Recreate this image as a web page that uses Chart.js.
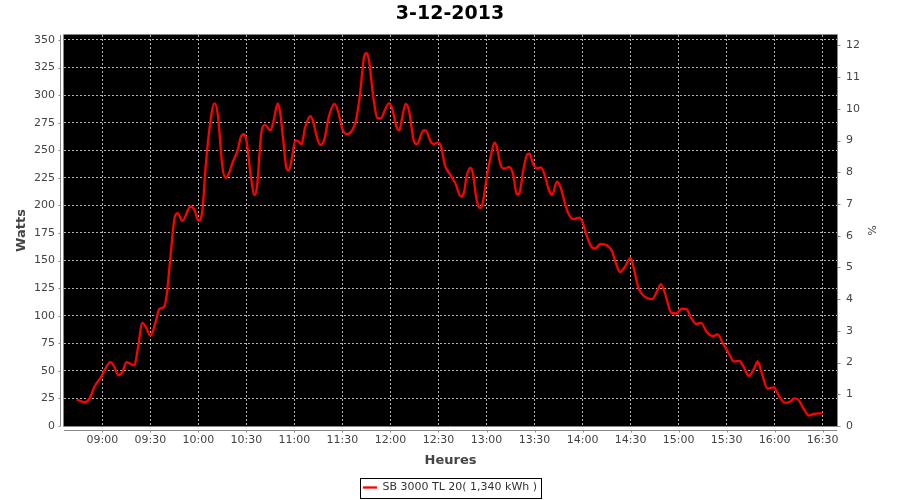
<!DOCTYPE html>
<html>
<head>
<meta charset="utf-8">
<title>3-12-2013</title>
<script src="https://cdn.jsdelivr.net/npm/chart.js@4.4.0/dist/chart.umd.min.js"></script>
<style>
  body { margin: 0; background: #fff; }
</style>
</head>
<body>
<canvas id="myChart" width="900" height="500"></canvas>
<script>
// minutes since midnight
const minutes = [
  524, 529, 532, 535, 539, 545, 547, 550, 552.5, 555,
  558, 560, 562, 565, 567, 570, 573, 575.5, 578.5, 580,
  582.5, 585, 587, 590, 595, 597.5, 600, 602.5, 604.5, 607,
  610, 612, 615, 617, 619, 621.5, 624.5, 626.5, 628.5, 630,
  632.5, 635, 636.5, 639.5, 641.5, 645, 647, 649.5, 651, 653,
  655, 656.5, 658.5, 660.5, 662.5, 664.5, 666.5, 670, 671.5, 674,
  676, 678.5, 681.5, 685, 687, 690, 693, 696, 698.5, 701,
  703.5, 705, 706.5, 709.5, 712, 714, 716.5, 719, 721, 724,
  725.5, 727, 729.5, 731.5, 734.5, 736.5, 740.5, 742, 745, 747,
  749.5, 751.5, 754, 757.5, 760.5, 764, 766, 767.5, 770, 771.5,
  773.5, 775, 776.5, 778, 780, 783, 785, 786.5, 788.5, 790.5,
  792, 794, 796.5, 799, 800.5, 803, 805.5, 807, 809, 811.5,
  814, 816, 819, 821, 824, 826.5, 829, 831, 834.5, 838,
  840, 842.5, 845.5, 848, 851, 854, 858.5, 860.5, 863.5, 866.5,
  870, 872, 875, 879, 883.5, 886.5, 889, 891.5, 895.5, 898.5,
  902, 905, 907.5, 911, 914, 917.5, 921.5, 924.5, 927.5, 931.5,
  934.5, 938, 940.5, 944, 947, 949.5, 952, 955.5, 959.5, 963,
  966.5, 969.5, 972.5, 975, 978, 981.5, 984.5, 987.5, 990
];
const watts = [
  24, 21.5, 25, 35.5, 44, 58, 55, 46, 49, 58,
  56, 55, 69, 93.5, 90, 82, 93, 106, 108, 117,
  153, 188, 193, 186, 199, 196, 186, 196, 235, 271,
  292.5, 283.5, 235, 225, 229, 239.5, 250, 262, 264.5, 259,
  229, 209.5, 216, 268, 273, 268, 277, 292.5, 285, 259,
  233.5, 231.5, 244, 259, 258, 255.5, 270, 281, 277, 262,
  255, 259, 280.5, 292, 286.5, 269, 264.5, 268, 277.5, 301.5,
  335, 338, 332, 295.5, 279, 279, 286.5, 292.5, 288, 270,
  268, 277.5, 292, 286.5, 259, 255.5, 268, 268, 258, 255.5,
  257, 254, 236.5, 227.5, 220, 208, 212.5, 226, 234, 229,
  208, 199, 197.5, 205, 224.5, 247, 257, 253, 238, 233.5,
  233.5, 235, 229, 210, 211, 232, 246.5, 247, 238, 233.5,
  234.5, 229, 214, 209.5, 221.5, 215.5, 202, 193, 187.5, 189,
  185, 173, 162.5, 161, 165, 164.5, 158.5, 149, 139.5, 144.5,
  152.5, 143, 125, 117, 115, 122, 128.5, 120.5, 102.5, 102,
  106.5, 106, 99, 92.5, 93.5, 85.5, 81.5, 83, 75.5, 65.5,
  58.5, 59, 54, 45.5, 51.5, 58.5, 48, 34, 35, 26.5,
  21, 22, 25, 23.5, 16, 9.5, 11, 11.5, 11.5
];
const timeTicks = ['09:00', '09:30', '10:00', '10:30', '11:00', '11:30', '12:00', '12:30',
  '13:00', '13:30', '14:00', '14:30', '15:00', '15:30', '16:00', '16:30'];
const seriesLabel = 'SB 3000 TL 20( 1,340 kWh )';

const toMin = s => { const p = s.split(':'); return +p[0] * 60 + +p[1]; };
const pad2 = n => (n < 10 ? '0' : '') + n;
const fmtMin = m => pad2(Math.floor(m / 60)) + ':' + pad2(Math.round(m % 60));

const FONT = 'DejaVu Sans';
const AXIS_GREY = '#888888';
const GRID_GREY = '#b4b4b4';
const BOTTOM_PAD = -3;

// black plot, grey outline, offset axis lines, legend frame
const decor = {
  id: 'decor',
  beforeDraw(chart) {
    const a = chart.chartArea, c = chart.ctx;
    c.save();
    c.fillStyle = '#000';
    c.fillRect(a.left, a.top, a.right - a.left, a.bottom - a.top);
    c.restore();
  },
  afterDraw(chart) {
    const a = chart.chartArea, c = chart.ctx;
    const sx = chart.scales.x, sy = chart.scales.y, sy2 = chart.scales.y2;
    c.save();
    c.strokeStyle = AXIS_GREY;
    c.lineWidth = 1;
    c.beginPath();
    // outline
    c.rect(Math.round(a.left) - 0.5, Math.round(a.top) - 0.5, Math.round(a.right - a.left) + 1, Math.round(a.bottom - a.top) + 1);
    // left axis line
    const lx = Math.round(a.left) - 3.5;
    c.moveTo(lx, a.top); c.lineTo(lx, a.bottom);
    sy.ticks.forEach(t => {
      const py = Math.round(sy.getPixelForValue(t.value)) + 0.5;
      c.moveTo(lx - 2, py); c.lineTo(lx, py);
    });
    // bottom axis line
    const by = Math.round(a.bottom) + 4.5;
    c.moveTo(a.left, by); c.lineTo(a.right, by);
    sx.ticks.forEach(t => {
      const px = Math.round(sx.getPixelForValue(t.value)) + 0.5;
      c.moveTo(px, by); c.lineTo(px, by + 2);
    });
    // right axis tick marks
    const rx = Math.round(a.right) + 0.5;
    sy2.ticks.forEach(t => {
      const py = Math.round(sy2.getPixelForValue(t.value)) + 0.5;
      c.moveTo(rx, py); c.lineTo(rx + 3, py);
    });
    c.stroke();
    // legend frame
    const hb = chart.legend.legendHitBoxes[0];
    if (hb) {
      const cy = hb.top + hb.height / 2;
      c.strokeStyle = '#000';
      c.strokeRect(Math.round(hb.left) - 2.5, Math.round(cy - 10) + 0.5, Math.round(hb.width) + 7, 20);
    }
    c.restore();
  }
};

const ctx = document.getElementById('myChart').getContext('2d');
const myChart = new Chart(ctx, {
  type: 'line',
  data: {
    datasets: [{
      label: seriesLabel,
      data: minutes.map((m, i) => ({ x: m, y: watts[i] })),
      borderColor: '#ff0000',
      backgroundColor: '#ff0000',
      borderWidth: 2.3,
      pointRadius: 0,
      cubicInterpolationMode: 'monotone',
      yAxisID: 'y'
    }]
  },
  options: {
    responsive: false,
    animation: false,
    layout: { padding: { top: 0, left: 0, right: 0, bottom: BOTTOM_PAD } },
    plugins: {
      title: {
        display: true,
        text: '3-12-2013',
        color: '#000',
        font: { family: FONT, size: 19, weight: 'bold' },
        padding: { top: 2.5, bottom: 9.7 }
      },
      legend: {
        position: 'bottom',
        labels: {
          usePointStyle: true,
          pointStyle: 'line',
          pointStyleWidth: 14,
          color: '#333',
          font: { family: FONT, size: 11 },
          padding: 10
        }
      },
      tooltip: { enabled: false }
    },
    scales: {
      x: {
        type: 'linear',
        min: 516,
        max: 999,
        afterBuildTicks: s => { s.ticks = timeTicks.map(t => ({ value: toMin(t) })); },
        afterFit: s => { s.height = s.chart.height - BOTTOM_PAD - 426 - s.chart.legend.height; },
        ticks: {
          autoSkip: false,
          maxRotation: 0,
          padding: 8,
          color: '#444',
          font: { family: FONT, size: 11 },
          callback: v => fmtMin(v)
        },
        grid: { color: GRID_GREY, drawTicks: false },
        border: { display: false, dash: [2, 2] },
        title: {
          display: true,
          text: 'Heures',
          color: '#444',
          font: { family: FONT, size: 13, weight: 'bold' },
          padding: { top: 0, bottom: 4 }
        }
      },
      y: {
        position: 'left',
        min: 0,
        max: 354.5,
        afterFit: s => { s.width = 64; },
        ticks: {
          stepSize: 25,
          includeBounds: false,
          padding: 9,
          color: '#444',
          font: { family: FONT, size: 11 }
        },
        grid: {
          color: c => (c.tick && c.tick.value === 0 ? 'rgba(0,0,0,0)' : GRID_GREY),
          drawTicks: false
        },
        border: { display: false, dash: [2, 2] },
        title: {
          display: true,
          text: 'Watts',
          color: '#444',
          font: { family: FONT, size: 13, weight: 'bold' },
          padding: { top: 14, bottom: 0 }
        }
      },
      y2: {
        position: 'right',
        min: 0,
        max: 12.33,
        afterFit: s => { s.width = 63; },
        ticks: {
          stepSize: 1,
          includeBounds: false,
          padding: 9,
          color: '#444',
          font: { family: FONT, size: 11 }
        },
        grid: { drawOnChartArea: false, drawTicks: false },
        border: { display: false },
        title: {
          display: true,
          text: '%',
          color: '#444',
          font: { family: FONT, size: 11 },
          padding: { top: 23, bottom: 0 }
        }
      }
    }
  },
  plugins: [decor]
});
</script>
</body>
</html>
